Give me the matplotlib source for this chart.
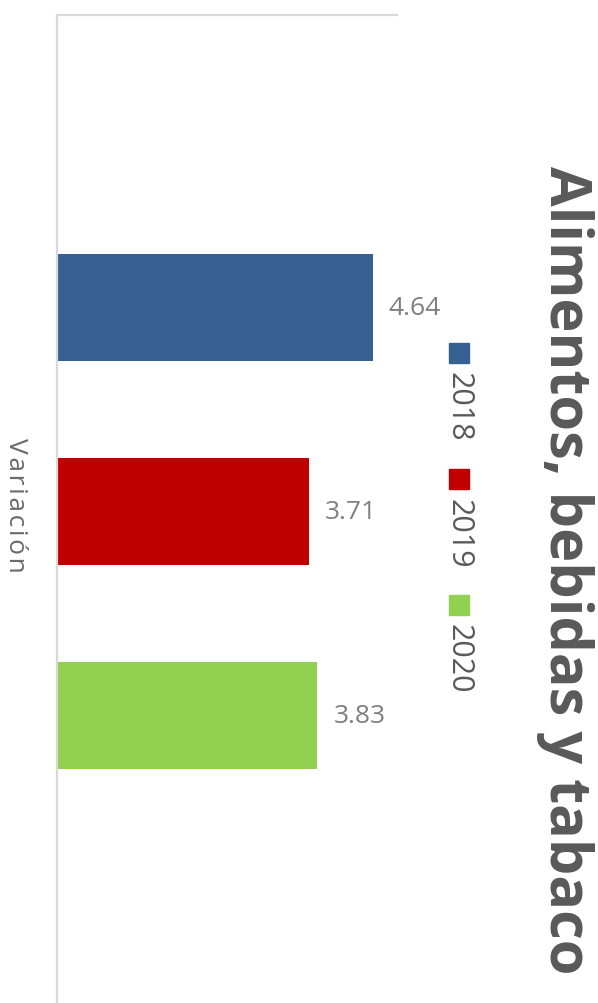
import matplotlib
matplotlib.use("Agg")
import matplotlib.pyplot as plt
from matplotlib.patches import Rectangle

# --- data ------------------------------------------------------------------
title = "Alimentos, bebidas y tabaco"
category = "Variación"
years = ["2018", "2019", "2020"]
values = [4.64, 3.71, 3.83]
colors = ["#366092", "#C00000", "#92D050"]

W, H = 598, 1004
fig = plt.figure(figsize=(W / 100, H / 100), dpi=100)

# axes box in pixel terms (top-left origin)
left, right, top, bottom = 57, 397, 16, 1009
ax = fig.add_axes([left / W, 1 - bottom / H, (right - left) / W, (bottom - top) / H])

ypos = list(range(len(values)))
ax.barh(ypos, values, height=0.525, color=colors, zorder=2)

for y, v in zip(ypos, values):
    ax.annotate(f"{v:.2f}", xy=(v, y), xytext=(11.5, 0), textcoords="offset points",
                ha="left", va="center", fontsize=19, color="#7f7f7f",
                family="Open Sans")

ax.set_xlim(0, 5)
ax.set_ylim(3.434, -1.434)
ax.set_xticks([])
ax.set_yticks([])
for s in ["right", "bottom"]:
    ax.spines[s].set_visible(False)
for s in ["left", "top"]:
    ax.spines[s].set_color("#d9d9d9")
    ax.spines[s].set_linewidth(1.6)
ax.patch.set_visible(False)
fig.patch.set_facecolor("white")

# category label on the left (slightly spaced letters)
fig.text(15 / W, 1 - 505 / H, "\u200a".join(category),
         rotation=-90, ha="center", va="center",
         fontsize=19, color="#6a6a6a", family=["Open Sans", "DejaVu Sans"])

# title on the right
fig.text(565 / W, 1 - 570 / H, title, rotation=-90, ha="center", va="center",
         fontsize=41.5, fontweight="bold", color="#595959", family="Open Sans")

# legend (rotated)
sq_y = [354, 480, 606]
txt_y = [407, 534, 659]
for yr, c, sy, ty in zip(years, colors, sq_y, txt_y):
    fig.patches.append(Rectangle(((459 - 10) / W, 1 - (sy + 10) / H), 20 / W, 20 / H,
                                 transform=fig.transFigure, color=c, figure=fig))
    fig.text(459 / W, 1 - ty / H, yr, rotation=-90, ha="center", va="center",
             fontsize=22, color="#595959", family="Open Sans")

fig.savefig("out.png", dpi=100, facecolor="white")
